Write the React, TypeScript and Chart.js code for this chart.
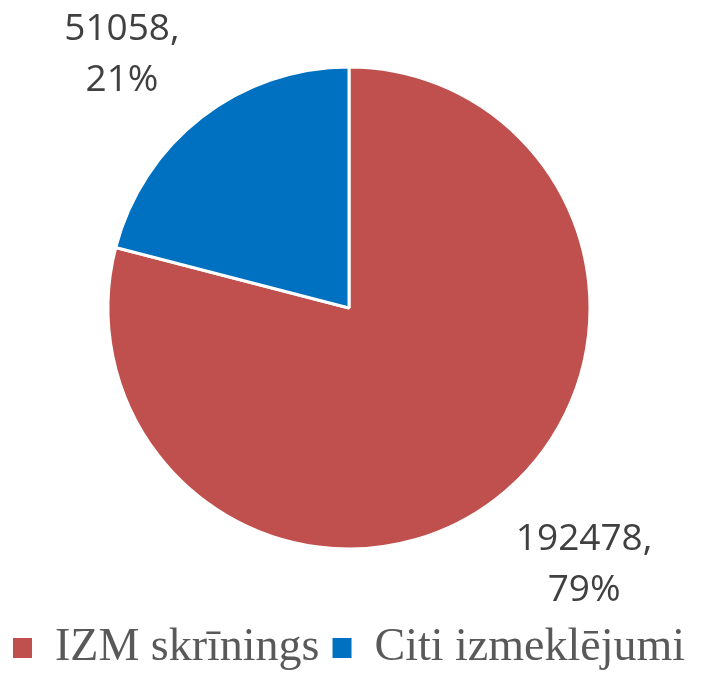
import React, { useEffect, useRef } from "react";
import { Chart, registerables } from "chart.js";

Chart.register(...registerables);

const categories = ["IZM skrīnings", "Citi izmeklējumi"];
const values = [192478, 51058];
const colors = ["#C0504D", "#0070C0"];

const dataLabelPlugin = {
  id: "pieDataLabels",
  afterDatasetsDraw(chart: any) {
    const ctx = chart.ctx;
    const meta = chart.getDatasetMeta(0);
    const data = chart.data.datasets[0].data as number[];
    const total = data.reduce((a, b) => a + b, 0);
    ctx.save();
    ctx.font = "37px 'Open Sans'";
    ctx.fillStyle = "#404040";
    ctx.textAlign = "center";
    ctx.textBaseline = "alphabetic";
    meta.data.forEach((arc: any, i: number) => {
      const { x, y, startAngle, endAngle, outerRadius } = arc.getProps(
        ["x", "y", "startAngle", "endAngle", "outerRadius"],
        true
      );
      const mid = (startAngle + endAngle) / 2;
      const r = outerRadius + 81;
      const cx = x + Math.cos(mid) * r + Math.sign(Math.cos(mid)) * 34 + 4;
      const cy = y + Math.sin(mid) * r;
      const pct = Math.round((data[i] / total) * 100);
      ctx.fillText(`${data[i]},`, cx, cy - 13);
      ctx.fillText(`${pct}%`, cx, cy + 38);
    });
    ctx.restore();
  },
};

export default function App() {
  const ref = useRef<HTMLCanvasElement>(null);
  useEffect(() => {
    document.body.style.margin = "0";
    const chart = new Chart(ref.current!, {
      type: "pie",
      data: {
        labels: categories,
        datasets: [
          {
            data: values,
            backgroundColor: colors,
            borderColor: "#FFFFFF",
            borderWidth: 3,
            radius: 241,
          },
        ],
      },
      options: {
        responsive: false,
        animation: false,
        layout: { padding: { top: 4, bottom: -6, left: 0, right: 12 } },
        plugins: {
          tooltip: { enabled: false },
          legend: {
            position: "bottom",
            labels: {
              font: { family: "'Liberation Serif', 'Times New Roman', serif", size: 46 },
              color: "#595959",
              boxWidth: 19,
              boxHeight: 20,
              padding: 13,
              generateLabels(chart: any) {
                const items = Chart.overrides.pie.plugins.legend.labels.generateLabels(chart);
                return items.map((it: any) => ({ ...it, lineWidth: 0, strokeStyle: "rgba(0,0,0,0)" }));
              },
            },
          },
        },
      },
      plugins: [dataLabelPlugin],
    });
    return () => chart.destroy();
  }, []);
  return (
    <div style={{ width: 710, height: 675 }}>
      <canvas ref={ref} width={710} height={675} style={{ display: "block" }} />
    </div>
  );
}
